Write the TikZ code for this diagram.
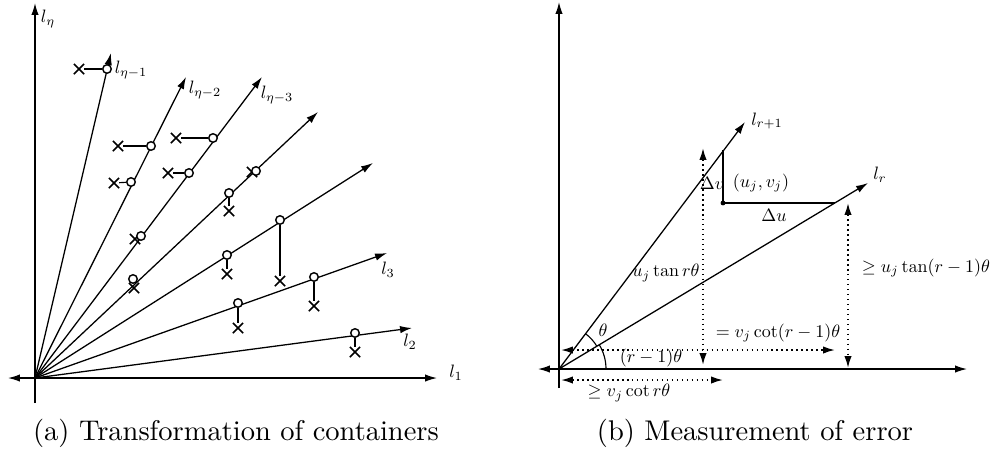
\documentclass[tikz,border=0pt]{standalone}
\usetikzlibrary{arrows.meta,shapes.misc}

\begin{document}
\begin{tikzpicture}[
      x=0.1234mm,
      y=-0.1234mm,
      >={Latex[length=4.2pt,width=2.6pt]},
      axis/.style={line width=0.45pt},
      ray/.style={->,line width=0.45pt},
      cont/.style={circle,draw,fill=white,inner sep=0pt,minimum size=3pt,line width=0.5pt},
      cross/.style={cross out,draw,inner sep=0pt,minimum size=3pt,line width=0.6pt},
      lbl/.style={font=\normalsize,scale=0.63,inner sep=0.5pt},
      dotarrow/.style={<->,line width=0.6pt,dash pattern=on 0.55pt off 1.2pt},
      caption/.style={font=\normalsize,inner sep=0pt}
    ]
      \useasboundingbox (0,0) rectangle (997,460);

      % (a) transformation of containers
      \coordinate (O) at (35,378);
      \coordinate (xl) at (8,378);
      \coordinate (xr) at (437,378);
      \coordinate (yb) at (35,403);
      \coordinate (yt) at (35,3);
      \draw[axis,<->] (xl) -- (xr);
      \draw[axis,->] (yb) -- (yt);

      \coordinate (t1) at (111,53);
      \coordinate (t2) at (186,77);
      \coordinate (t3) at (262,77);
      \coordinate (t4) at (318,112);
      \coordinate (t5) at (373,163);
      \coordinate (t6) at (387,253);
      \coordinate (t7) at (412,328);
      \draw[ray] (O) -- (t1);
      \draw[ray] (O) -- (t2);
      \draw[ray] (O) -- (t3);
      \draw[ray] (O) -- (t4);
      \draw[ray] (O) -- (t5);
      \draw[ray] (O) -- (t6);
      \draw[ray] (O) -- (t7);

      \node[lbl] (leta) at (48,19) {$l_\eta$};
      \node[lbl] (leta1) at (131,70) {$l_{\eta-1}$};
      \node[lbl] (leta2) at (205,90) {$l_{\eta-2}$};
      \node[lbl] (leta3) at (277,95) {$l_{\eta-3}$};
      \node[lbl] (lthree) at (388,270) {$l_3$};
      \node[lbl] (ltwo) at (410,342) {$l_2$};
      \node[lbl] (lone) at (456,373) {$l_1$};

      \node[cross] (x1) at (79,69) {};
      \node[cross] (x2) at (118,146) {};
      \node[cross] (x3) at (114,183) {};
      \node[cross] (x4) at (176,138) {};
      \node[cross] (x5) at (168,173) {};
      \node[cross] (x6) at (135,239) {};
      \node[cross] (x7) at (252,172) {};
      \node[cross] (x8) at (229,211) {};
      \node[cross] (x9) at (134,288) {};
      \node[cross] (x10) at (280,281) {};
      \node[cross] (x11) at (227,274) {};
      \node[cross] (x12) at (314,306) {};
      \node[cross] (x13) at (238,328) {};
      \node[cross] (x14) at (355,352) {};

      \node[cont] (c1) at (107,69) {};
      \node[cont] (c2) at (151,146) {};
      \node[cont] (c3) at (131,182) {};
      \node[cont] (c4) at (213,138) {};
      \node[cont] (c5) at (189,173) {};
      \node[cont] (c6) at (141,236) {};
      \node[cont] (c7) at (256,171) {};
      \node[cont] (c8) at (229,193) {};
      \node[cont] (c9) at (133,279) {};
      \node[cont] (c10) at (280,220) {};
      \node[cont] (c11) at (227,255) {};
      \node[cont] (c12) at (314,277) {};
      \node[cont] (c13) at (238,303) {};
      \node[cont] (c14) at (355,333) {};

      \draw (x1) -- (c1);
      \draw (x2) -- (c2);
      \draw (x3) -- (c3);
      \draw (x4) -- (c4);
      \draw (x5) -- (c5);
      \draw (c8) -- (x8);
      \draw (c10) -- (x10);
      \draw (c11) -- (x11);
      \draw (c12) -- (x12);
      \draw (c13) -- (x13);
      \draw (c14) -- (x14);

      \node[caption] (capa) at (236,433) {(a) Transformation of containers};

      % (b) measurement of error
      \coordinate (O2) at (559,369);
      \coordinate (ul) at (538,369);
      \coordinate (ur) at (967,369);
      \coordinate (vb) at (559,388);
      \coordinate (vt) at (559,2);
      \draw[axis,<->] (ul) -- (ur);
      \draw[axis,->] (vb) -- (vt);

      \coordinate (tr1) at (745,122);
      \coordinate (tr) at (868,183);
      \draw[ray] (O2) -- (tr1);
      \draw[ray] (O2) -- (tr);
      \node[lbl] (lrone) at (767,121) {$l_{r+1}$};
      \node[lbl] (lr) at (880,175) {$l_r$};

      \node[circle,fill,inner sep=0pt,minimum size=1.7pt] (P) at (723,203) {};
      \coordinate (Pv) at (723,150);
      \coordinate (Pu) at (835,203);
      \draw (P.center) -- (Pv);
      \draw (P.center) -- (Pu);
      \node[lbl] (dv) at (712,183) {$\Delta v$};
      \node[lbl] (uv) at (761,183) {$(u_j,v_j)$};
      \node[lbl] (du) at (774,215) {$\Delta u$};

      \coordinate (d1t) at (703,148);
      \coordinate (d1b) at (703,365);
      \coordinate (d2t) at (848,203);
      \coordinate (d2b) at (848,368);
      \coordinate (d3l) at (561,350);
      \coordinate (d3r) at (835,350);
      \coordinate (d4l) at (561,380);
      \coordinate (d4r) at (723,380);
      \draw[dotarrow] (d1t) -- (d1b);
      \draw[dotarrow] (d2t) -- (d2b);
      \draw[dotarrow] (d3l) -- (d3r);
      \draw[dotarrow] (d4l) -- (d4r);

      \draw (O2) ++(31:5.45mm) arc[start angle=31,end angle=53,radius=5.45mm];
      \draw (O2) ++(0:5.8mm) arc[start angle=0,end angle=31,radius=5.8mm];

      \node[lbl] (tanr) at (666,273) {$u_j\tan r\theta$};
      \node[lbl] (tanrm) at (926,268) {$\geq u_j\tan(r-1)\theta$};
      \node[lbl] (cotrm) at (778,333) {$=v_j\cot(r-1)\theta$};
      \node[lbl] (th) at (603,330) {$\theta$};
      \node[lbl] (rmth) at (651,358) {$(r-1)\theta$};
      \node[lbl] (cotr) at (629,393) {$\geq v_j\cot r\theta$};

      \node[caption] (capb) at (755,433) {(b) Measurement of error};
    \end{tikzpicture}
\end{document}
